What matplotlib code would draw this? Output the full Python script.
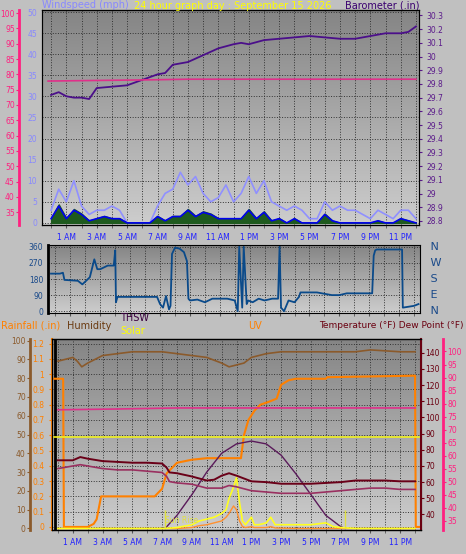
import numpy as np
import matplotlib
matplotlib.use("Agg")
import matplotlib.pyplot as plt

W, H = 466, 554

# ---- data ----
baro_t = [0, 0.5, 1, 1.5, 2, 2.5, 3, 4, 5, 6, 7, 7.5, 8, 9, 10, 11, 12, 12.5, 13, 14, 15, 16, 17, 18, 19, 20, 21, 22, 23, 23.5, 24]
baro = [29.72, 29.74, 29.71, 29.70, 29.70, 29.69, 29.77, 29.78, 29.79, 29.83, 29.87, 29.88, 29.94, 29.96, 30.01, 30.06, 30.09, 30.10, 30.09, 30.12, 30.13, 30.14, 30.15, 30.14, 30.13, 30.13, 30.15, 30.17, 30.17, 30.18, 30.22]
outtemp_t = [-0.2, 3, 6.5, 9, 24]
outtemp = [77.8, 78.0, 78.2, 78.4, 78.4]

wind_t = np.arange(0, 24.5, 0.5)
gust = [3, 8, 5, 10, 4, 2, 3, 3, 4, 3, 0, 0, 0, 0, 4, 7, 8, 12, 9, 11, 7, 5, 6, 9, 5, 7, 11, 7, 10, 5,
        4, 3, 4, 3, 1, 1, 5, 3, 4, 3, 3, 2, 1, 3, 2, 1, 3, 3, 1]
avg = [1, 4, 1, 3, 2, 0.5, 1, 1.5, 1, 1, 0, 0, 0, 0, 1.5, 0.5, 1.5, 1.5, 3, 1.5, 2.5, 2, 1, 1, 1, 1, 3, 1, 2.5, 0.5,
       1, 0, 1, 0, 0, 0, 2, 0.5, 0, 0, 0, 0, 0, 0.5, 0, 0, 1, 0.5, 0]

dir_t = [-0.3, 0.3, 0.5, 0.6, 1.5, 1.8, 2.3, 2.6, 2.8, 3.0, 3.5, 3.9, 4.0, 4.05, 4.15, 4.4, 6.8, 7.0, 7.2, 7.4, 7.6, 7.7,
         7.8, 8.0, 8.3, 8.6, 8.8, 8.9, 9.0, 9.5, 10, 10.5, 11, 11.5, 12, 12.2, 12.3, 12.5, 12.6, 12.8, 12.9, 13.2, 13.6,
         14, 14.5, 14.9, 15.0, 15.1, 15.3, 15.6, 16, 16.3, 16.4, 17, 17.5, 18.5, 19, 19.5, 21.2, 21.3, 21.4, 21.5, 23.2, 23.25, 24, 24.3]
wdir = [210, 210, 215, 175, 170, 150, 190, 290, 235, 235, 255, 255, 340, 50, 80, 80, 80, 40, 20, 85, 10, 30,
        320, 355, 350, 330, 280, 70, 60, 65, 50, 70, 70, 70, 60, 0, 360, 20, 360, 40, 60, 50, 70,
        60, 70, 70, 360, 20, 0, 60, 50, 80, 105, 105, 105, 90, 90, 100, 100, 310, 340, 345, 345, 20, 30, 40]

hum_t = [0, 0.5, 1, 1.3, 1.6, 2, 2.5, 3, 4, 5, 7, 8, 9, 10, 11, 11.5, 12, 12.5, 13, 14, 15, 16, 20, 21, 22, 23, 24]
hum = [89, 90, 91, 89, 86, 88, 90, 92, 93, 94, 94, 93, 92, 91, 88, 86, 87, 88, 91, 93, 94, 94, 94, 95, 94.5, 94, 94]

rain_t = [-0.3, 0.35, 0.4, 2.0, 2.4, 2.6, 2.9, 6.5, 7.0, 7.3, 7.6, 8.0, 9.0, 10, 12.3, 12.5, 12.8, 13.2, 13.6, 14.2, 14.7, 15.0, 15.5, 16, 18, 18.1, 24.0, 24.05, 24.3]
rain = [0.97, 0.97, 0.0, 0.0, 0.02, 0.05, 0.2, 0.2, 0.25, 0.35, 0.38, 0.42, 0.44, 0.45, 0.45, 0.6, 0.7, 0.76, 0.8, 0.82, 0.84, 0.93, 0.96, 0.97, 0.97, 0.98, 0.99, 0.0, 0.0]

temp_t = [0, 1, 1.5, 2, 3, 4, 5, 6, 7, 7.3, 7.5, 8, 9, 10, 10.5, 11, 11.5, 12, 13, 14, 15, 16, 17, 18, 19, 20, 21, 22, 23, 24]
temp = [73.5, 73.5, 75.5, 74.5, 73, 72.5, 72, 72, 71.5, 69, 66, 65.5, 63.5, 61, 61.5, 64, 65.5, 64, 60.5, 60, 59, 59, 59, 59.5, 60, 61, 61, 61, 60.5, 60.5]
dew = [55, 56, 56.5, 56, 55, 54.5, 54.5, 54, 53.5, 52, 50, 49.5, 49, 47.5, 47.5, 47.5, 48.5, 48, 46.5, 46, 45.5, 45.5, 45.5, 46, 46.5, 47, 47.5, 47.5, 47, 47]
dewline_t = [0, 4, 8, 24]
dewline = [77.6, 77.9, 78.3, 78.3]

solar_t = [0, 7.2, 8, 9, 9.5, 10, 10.5, 11, 11.3, 11.5, 11.8, 12, 12.2, 12.4, 12.6, 13, 13.2, 13.5, 14, 14.3, 14.6, 15, 16, 17, 18, 18.5, 19, 20, 24]
solar = [0, 0, 0.5, 2, 4, 5, 6, 8, 10, 16, 22, 27, 14, 4, 2, 6, 2, 2, 3, 6, 2, 2, 2, 2, 3, 1, 0.5, 0, 0]
uv = [0, 0, 0, 0.5, 1.5, 2, 3, 4, 6, 8, 12, 10, 4, 1, 0.5, 1, 0.5, 0.5, 0.5, 1, 0.3, 0.2, 0, 0, 0, 0, 0, 0, 0]
arch_t = [7.2, 8, 9, 10, 11, 12, 13, 14, 15, 16, 17, 18, 19, 19.3]
arch = [0, 7, 18, 30, 40, 45, 46.5, 45, 39, 29, 18, 7, 1, 0]
solar_max = 48.5

hours = list(range(1, 24, 2))
hour_labels = ["1 AM", "3 AM", "5 AM", "7 AM", "9 AM", "11 AM", "1 PM", "3 PM", "5 PM", "7 PM", "9 PM", "11 PM"]

BG = "#c0c0c0"
fig = plt.figure(figsize=(W / 100, H / 100), dpi=100, facecolor=BG)
FS = 5.5
PX = 0.72  # points per pixel at 100 dpi


def box(l, t, r, b):
    return [l / W, 1 - b / H, (r - l) / W, (b - t) / H]


def gradient(ax):
    g = np.linspace(0, 1, 100).reshape(-1, 1)
    cm = matplotlib.colors.LinearSegmentedColormap.from_list("g", ["#858585", "#cdcdcd"])
    ax.imshow(g, aspect="auto", cmap=cm, extent=[0, 1, 0, 1], transform=ax.transAxes, zorder=0, origin="upper")


def time_axis(ax, x0, x1):
    ax.set_xlim(x0, x1)
    ax.set_xticks(hours)
    ax.set_xticklabels(hour_labels, fontsize=FS)
    ax.set_xticks(range(0, 25), minor=True)
    ax.tick_params(axis="x", which="both", length=2, colors="#555555", labelcolor="#2020ff")
    ax.grid(True, which="both", axis="x", color="#333333", linestyle=":", linewidth=0.7)
    ax.grid(True, which="major", axis="y", color="#333333", linestyle=":", linewidth=0.7)


# ---- top panel ----
ax1 = fig.add_axes(box(42, 10, 419, 225))
gradient(ax1)
time_axis(ax1, -0.6, 24.2)
ax1.set_ylim(-0.5, 50.5)
ax1.set_yticks(range(0, 51, 5))
ax1.tick_params(axis="y", labelsize=FS, colors="#8888ff", length=0)
ax1.plot(wind_t, gust, color="#9090ff", lw=1.2, zorder=2)
ax1.fill_between(wind_t, 0, np.array(avg) * 1.1, color="#1e5a1e", zorder=3)
ax1.plot(wind_t, avg, color="#0000ee", lw=1.2, zorder=4)
ax1.text(0.0, 1.0, "Windspeed (mph)", transform=ax1.transAxes, color="#8888ff", fontsize=7, va="bottom", ha="left")
for s in ax1.spines.values():
    s.set_color("#333333")

axb = ax1.twinx()
bt = np.round(np.arange(28.8, 30.31, 0.1), 1)
axb.set_ylim(28.77, 30.34)
axb.set_yticks(bt)
axb.set_yticklabels([f"{v:g}" for v in bt])
axb.tick_params(axis="y", labelsize=FS, colors="#5a1a8a", length=2)
axb.plot(baro_t, baro, color="#4b0f8a", lw=1.3)
axb.text(1.0, 1.0, "Barometer (.in)", transform=axb.transAxes, color="#3a0070", fontsize=7, va="bottom", ha="right")

axt = ax1.twinx()
axt.spines["left"].set_position(("outward", 23 * PX))
axt.spines["left"].set_visible(True)
axt.spines["left"].set_color("#ff2080")
axt.spines["left"].set_linewidth(2)
axt.yaxis.tick_left()
axt.spines["right"].set_visible(False)
axt.set_ylim(30.8, 101)
axt.set_yticks(range(35, 101, 5))
axt.tick_params(axis="y", labelsize=FS, colors="#ff2080", length=2, pad=1)
axt.plot(outtemp_t, outtemp, color="#e0308a", lw=1.2)
fig.text(0.5, 1 - 1 / H, "24 hour graph day : September 15 2026", color="yellow", fontsize=7, ha="center", va="top")

# ---- wind direction panel ----
ax2 = fig.add_axes(box(48, 245, 420, 313))
gradient(ax2)
time_axis(ax2, -0.5, 24.4)
ax2.tick_params(axis="x", which="both", labelbottom=False)
ax2.set_ylim(-10, 370)
ax2.set_yticks([0, 90, 180, 270, 360])
ax2.tick_params(axis="y", labelsize=FS, colors="#1a4a8a", length=0)
ax2.plot(dir_t, wdir, color="#0a4a8a", lw=1.3)
ax2.spines["left"].set_linewidth(2)
for v, lab in zip([0, 90, 180, 270, 360], ["N", "E", "S", "W", "N"]):
    ax2.text(24.4, v, "   " + lab, color="#1a4a8a", fontsize=8, va="center", ha="left", clip_on=False)

# ---- bottom panel ----
ax3 = fig.add_axes(box(52, 339, 421, 530))
gradient(ax3)
time_axis(ax3, -0.4, 24.4)
rt = np.round(np.arange(0, 1.21, 0.1), 1)
ax3.set_ylim(-0.02, 1.23)
ax3.set_yticks(rt)
ax3.set_yticklabels([f"{v:g}" for v in rt])
ax3.tick_params(axis="y", labelsize=FS, colors="#ff8000", length=2)
ax3.spines["left"].set_color("#ff8000")
ax3.spines["left"].set_linewidth(1.5)
ax3.axvline(-0.2, color="black", lw=2)

axh = ax3.twinx()
axh.spines["left"].set_position(("outward", 22 * PX))
axh.spines["left"].set_visible(True)
axh.spines["left"].set_color("#8b5a2b")
axh.spines["left"].set_linewidth(2)
axh.yaxis.tick_left()
axh.spines["right"].set_visible(False)
axh.set_ylim(-0.8, 100.8)
axh.set_yticks(range(0, 101, 10))
axh.tick_params(axis="y", labelsize=FS, colors="#8b5a2b", length=2, pad=1)
axh.plot(hum_t, hum, color="#8b5a2b", lw=1.2)
axh.axhline(solar_max, color="#f0f020", lw=1.2)
axh.plot(arch_t, arch, color="#5a1a5a", lw=1)
axh.plot(solar_t, uv, color="#ff9030", lw=1)
axh.plot(solar_t, solar, color="#ffff20", lw=1.2)
axh.vlines([7.2, 19.3], 0, [10, 10], color="#e0e040", lw=1)
axh.text(7.2, 3, "Sun Rise", color="#e0e040", fontsize=5.5)

ax3.plot(rain_t, rain, color="#ff8000", lw=1.5, zorder=5)

axtmp = ax3.twinx()
axtmp.set_ylim(30.4, 148.5)
axtmp.set_yticks(range(40, 141, 10))
axtmp.tick_params(axis="y", labelsize=FS, colors="#6a0010", length=2, pad=1)
axtmp.spines["right"].set_color("#6a0010")
axtmp.spines["right"].set_linewidth(1.5)
axtmp.plot(temp_t, temp, color="#6a0018", lw=1.4)

axd = ax3.twinx()
axd.spines["right"].set_position(("outward", 22 * PX))
axd.spines["right"].set_color("#ff2080")
axd.spines["right"].set_linewidth(2)
axd.set_ylim(31.4, 104.8)
axd.set_yticks(range(35, 101, 5))
axd.tick_params(axis="y", labelsize=FS, colors="#ff2080", length=2, pad=1)
axd.plot(temp_t, dew, color="#9a3060", lw=1.2)
axd.plot(dewline_t, dewline, color="#e0308a", lw=1.2)

fig.text(1 / W, 1 - 326 / H, "Rainfall (.in)", color="#ff8000", fontsize=7, va="center")
fig.text(67 / W, 1 - 326 / H, "Humidity", color="#6a3a10", fontsize=7, va="center")
fig.text(120 / W, 1 - 318 / H, "THSW", color="#3a0040", fontsize=7, va="center")
fig.text(120 / W, 1 - 331 / H, "Solar", color="yellow", fontsize=7, va="center")
fig.text(248 / W, 1 - 326 / H, "UV", color="#ff8000", fontsize=7, va="center")
fig.text(464 / W, 1 - 326 / H, "Temperature (°F) Dew Point (°F)", color="#6a0010", fontsize=6.5, va="center", ha="right")

fig.savefig("out.png", dpi=100, facecolor=BG)
